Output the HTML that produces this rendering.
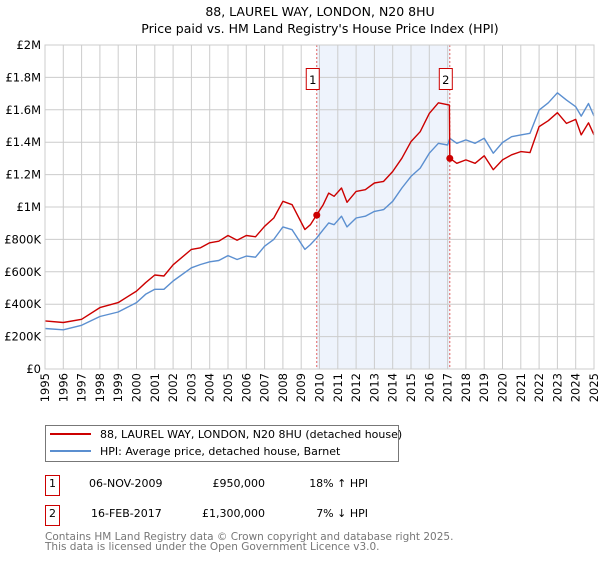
<!DOCTYPE html>
<html><head><meta charset="utf-8"><style>
body{margin:0;background:#fff;font-family:"Liberation Sans","DejaVu Sans",sans-serif;}
svg text{font-family:"DejaVu Sans","Liberation Sans",sans-serif;}
</style></head><body>
<svg id="chart" width="600" height="560" viewBox="0 0 600 560" xmlns="http://www.w3.org/2000/svg">
<text x="320" y="16" font-size="12.5" text-anchor="middle">88, LAUREL WAY, LONDON, N20 8HU</text>
<text x="320" y="33" font-size="12.5" text-anchor="middle">Price paid vs. HM Land Registry's House Price Index (HPI)</text>
<g id="plot"></g>
<g>
<rect x="45.5" y="425.5" width="353" height="36" fill="#fff" stroke="#777"/>
<line x1="50" y1="434" x2="91" y2="434" stroke="#cc0000" stroke-width="2"/>
<text x="100" y="438" font-size="11">88, LAUREL WAY, LONDON, N20 8HU (detached house)</text>
<line x1="50" y1="451" x2="91" y2="451" stroke="#5b8fd0" stroke-width="2"/>
<text x="100" y="455" font-size="11">HPI: Average price, detached house, Barnet</text>
</g>
<g font-size="11">
<rect x="45.5" y="475.5" width="14" height="20" fill="#fff" stroke="#cc0000"/>
<text x="52.5" y="487" text-anchor="middle">1</text>
<text x="89" y="487">06-NOV-2009</text>
<text x="265" y="487" text-anchor="end">£950,000</text>
<text x="368" y="487" text-anchor="end">18% ↑ HPI</text>
</g>
<g font-size="11">
<rect x="45.5" y="505.5" width="14" height="20" fill="#fff" stroke="#cc0000"/>
<text x="52.5" y="517" text-anchor="middle">2</text>
<text x="91" y="517">16-FEB-2017</text>
<text x="265" y="517" text-anchor="end">£1,300,000</text>
<text x="368" y="517" text-anchor="end">7% ↓ HPI</text>
</g>
<text x="45" y="540" font-size="10.5" fill="#777">Contains HM Land Registry data © Crown copyright and database right 2025.</text>
<text x="45" y="550" font-size="10.5" fill="#777">This data is licensed under the Open Government Licence v3.0.</text>
</svg>
<script>
const hpiYears=[1995,1996,1997,1998,1999,2000,2000.5,2001,2001.5,2002,2003,2003.5,2004,2004.5,2005,2005.5,2006,2006.5,2007,2007.5,2008,2008.5,2009.2,2009.5,2009.85,2010.2,2010.5,2010.8,2011.2,2011.5,2012,2012.5,2013,2013.5,2014,2014.5,2015,2015.5,2016,2016.5,2017,2017.12,2017.5,2018,2018.5,2019,2019.5,2020,2020.5,2021,2021.5,2022,2022.5,2023,2023.5,2024,2024.3,2024.7,2025];
const hpiValues=[250,242,270,324,352,410,461,492,492,543,625,645,662,670,700,676,697,690,758,800,877,860,738,768,810,860,902,891,943,877,932,943,973,984,1035,1117,1189,1240,1332,1393,1383,1424,1393,1414,1393,1424,1332,1398,1434,1445,1455,1598,1643,1705,1660,1619,1561,1639,1561];
const priceYears=[1995,1996,1997,1998,1999,2000,2000.5,2001,2001.5,2002,2003,2003.5,2004,2004.5,2005,2005.5,2006,2006.5,2007,2007.5,2008,2008.5,2009.2,2009.5,2009.85,2010.2,2010.5,2010.8,2011.2,2011.5,2012,2012.5,2013,2013.5,2014,2014.5,2015,2015.5,2016,2016.5,2017.1,2017.12,2017.5,2018,2018.5,2019,2019.5,2020,2020.5,2021,2021.5,2022,2022.5,2023,2023.5,2024,2024.3,2024.7,2025];
const priceValues=[297,287,307,379,410,481,533,580,574,643,738,748,779,789,824,795,824,816,881,932,1035,1014,861,891,953,1014,1086,1066,1117,1029,1096,1107,1148,1158,1219,1301,1404,1465,1578,1643,1629,1301,1270,1291,1270,1316,1230,1291,1322,1342,1336,1496,1533,1582,1516,1541,1445,1520,1445];
const saleYears=[2009.85,2017.12];
const saleValues=[950,1300];
const saleLabels=["1","2"];
const yTicks=[0,200,400,600,800,1000,1200,1400,1600,1800,2000];
const yTickLabels=["£0","£200K","£400K","£600K","£800K","£1M","£1.2M","£1.4M","£1.6M","£1.8M","£2M"];
const xTicks=[1995,1996,1997,1998,1999,2000,2001,2002,2003,2004,2005,2006,2007,2008,2009,2010,2011,2012,2013,2014,2015,2016,2017,2018,2019,2020,2021,2022,2023,2024,2025];

const X0=45,X1=594,Y0=369,Y1=45;
const xs=v=>X0+(v-1995)/30*(X1-X0);
const ys=v=>Y0-v/2000*(Y0-Y1);
const NS="http://www.w3.org/2000/svg";
const g=document.getElementById('plot');
function mk(t,a){const e=document.createElementNS(NS,t);for(const k in a)e.setAttribute(k,a[k]);g.appendChild(e);return e;}
const shade=mk('rect',{x:xs(saleYears[0]),y:Y1,width:xs(saleYears[1])-xs(saleYears[0]),height:Y0-Y1,fill:'#eef3fc'});


yTicks.forEach((t,i)=>{
 const l=mk('line',{x1:X0,x2:X1,y1:ys(t),y2:ys(t),stroke:'#ccc','stroke-width':1});
 
 
 const tx=mk('text',{x:X0-4,y:ys(t)+4,'font-size':11.5,'text-anchor':'end'});
 tx.textContent=yTickLabels[i];
 
 
});
xTicks.forEach(t=>{
 const l=mk('line',{x1:xs(t),x2:xs(t),y1:Y1,y2:Y0,stroke:'#ccc','stroke-width':1});
 
 
 const tx=mk('text',{x:0,y:0,'font-size':11.5,transform:`translate(${xs(t)+4},${Y0+4}) rotate(-90)`,'text-anchor':'end'});
 tx.textContent=t;
 
 
});
saleYears.forEach((s,i)=>{
 const l=mk('line',{x1:xs(s),x2:xs(s),y1:Y1,y2:Y0,stroke:'#e06060','stroke-width':1,'stroke-dasharray':'2,2'});
 
 
});
function path(xv,yv,c,name){
 const d=xv.map((x,i)=>(i?'L':'M')+xs(x).toFixed(1)+','+ys(yv[i]).toFixed(1)).join('');
 const p=mk('path',{d:d,fill:'none',stroke:c,'stroke-width':1.4,'stroke-linejoin':'round'});
 
 
}
path(hpiYears,hpiValues,'#5b8fd0','hpi-line');
path(priceYears,priceValues,'#cc0000','price-paid-line');
saleYears.forEach((s,i)=>{
 const c=mk('circle',{cx:xs(s),cy:ys(saleValues[i]),r:3.5,fill:'#cc0000'});
 
 
 const bx=xs(s)-10;
 const r=mk('rect',{x:bx-0.5,y:68.5,width:13,height:21,fill:'#fff',stroke:'#cc0000'});
 
 
 const t=mk('text',{x:bx+6,y:84,'font-size':11.5,'text-anchor':'middle'});
 t.textContent=saleLabels[i];
 
 
});
const ax=mk('rect',{x:X0,y:Y1,width:X1-X0,height:Y0-Y1,fill:'none',stroke:'#ccc'});


</script>
</body></html>
